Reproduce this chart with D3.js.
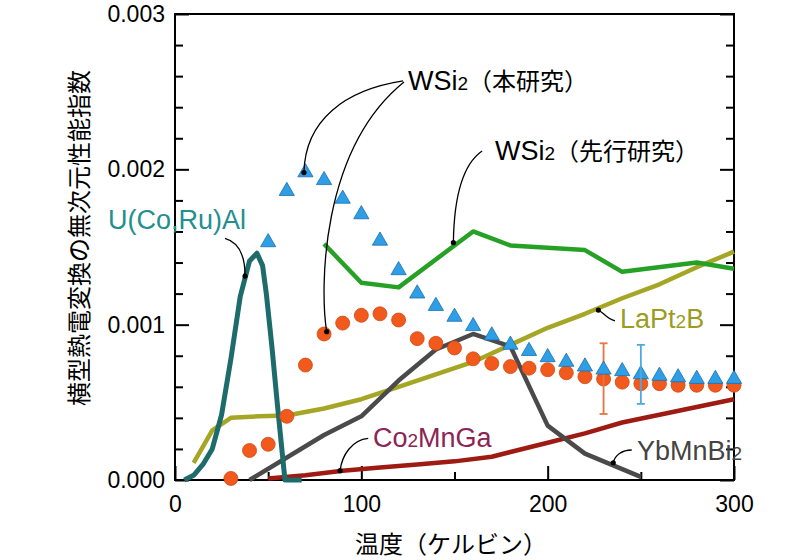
<!DOCTYPE html>
<html><head><meta charset="utf-8">
<script src="https://cdn.jsdelivr.net/npm/d3@7"></script>
<style>body{margin:0;background:#fff}svg{display:block}text,tspan{font-feature-settings:"chws" 0;}</style>
</head><body><svg id="c" width="800" height="560"></svg>
<script>
// ---------- data ----------
const xTickVals = [0, 100, 200, 300];
const xMinorVals = [50, 150, 250];
const yTickVals = [0, 0.001, 0.002, 0.003];
const yMinorVals = [0.0002,0.0004,0.0006,0.0008,0.0012,0.0014,0.0016,0.0018,0.0022,0.0024,0.0026,0.0028];

// WSi2 (this study) - triangles
const triT = [50,60,70,80,90,100,110,120,130,140,150,160,170,180,190,200,210,220,230,240,250,260,270,280,290,300];
const triV = [0.00153,0.00186,0.00198,0.00193,0.00181,0.00171,0.00154,0.00135,0.00120,0.00112,0.00105,0.00099,0.00093,0.00087,0.00083,0.00079,0.00076,0.00073,0.00071,0.00070,0.00068,0.00067,0.00066,0.00065,0.00065,0.00065];
// WSi2 (this study) - circles
const circT = [30,40,50,60,70,80,90,100,110,120,130,140,150,160,170,180,190,200,210,220,230,240,250,260,270,280,290,300];
const circV = [0.00001,0.00019,0.00023,0.00041,0.00074,0.00094,0.00101,0.00106,0.00107,0.00103,0.00091,0.00088,0.00085,0.00078,0.00075,0.00073,0.00072,0.00071,0.00069,0.000665,0.00065,0.00063,0.00062,0.00062,0.00061,0.00061,0.00061,0.00061];
// error bars
const errCirc = {t: 230, lo: 0.000425, hi: 0.00088};
const errTri  = {t: 250, lo: 0.00049,  hi: 0.00087};

// WSi2 (previous study)
const prevT = [80,100,120,160,180,220,240,280,300];
const prevV = [0.00152,0.00127,0.00124,0.00160,0.00151,0.00148,0.00134,0.00140,0.00136];
// U(Co,Ru)Al
const ucoT = [5,10,15,20,25,30,35,40,44,47,49,52,55,59,68];
const ucoV = [0,0.00003,0.0001,0.0002,0.00042,0.00078,0.00118,0.00141,0.00146,0.00138,0.0012,0.00086,0.00048,0,0];
// LaPt2B
const laT = [10,20,30,45,60,80,100,120,140,160,180,200,220,240,260,280,300];
const laV = [0.00011,0.00032,0.0004,0.00041,0.000415,0.00046,0.00052,0.0006,0.00068,0.00076,0.00087,0.00098,0.00107,0.00117,0.00126,0.00137,0.00147];
// YbMnBi2
const ybT = [40,80,100,120,140,160,180,200,220,250];
const ybV = [0,0.00029,0.00041,0.00064,0.00084,0.00094,0.00086,0.00035,0.00017,0.00002];
// Co2MnGa
const coT = [50,70,90,110,130,150,170,180,200,220,240,260,280,300];
const coV = [0.00001,0.00003,0.00006,0.00008,0.0001,0.00012,0.00015,0.00018,0.00024,0.0003,0.00037,0.00042,0.00047,0.00052];

// ---------- layout ----------
const svg = d3.select("#c");
const x = d3.scaleLinear().domain([0, 300]).range([175, 734]);
const y = d3.scaleLinear().domain([0, 0.003]).range([480, 14]);
const LAT = "'Liberation Sans', Arial, 'Noto Sans CJK JP', sans-serif";
const CJK = "'Noto Sans CJK JP', sans-serif";

svg.append("rect").attr("width",800).attr("height",560).attr("fill","#fff");

// frame
svg.append("rect").attr("x",x(0)).attr("y",y(0.003)).attr("width",x(300)-x(0)).attr("height",y(0)-y(0.003))
  .attr("fill","none").attr("stroke","#000").attr("stroke-width",2);

function styleAxis(g){ g.select(".domain").remove(); g.selectAll(".tick line").attr("stroke","#000").attr("stroke-width",2); }

const gx = svg.append("g").attr("transform",`translate(0,${y(0)})`)
  .call(d3.axisBottom(x).tickValues(xTickVals).tickSize(-14).tickPadding(16).tickFormat(d3.format("d")));
styleAxis(gx);
gx.selectAll("text").attr("font-family",LAT).attr("font-size",23).attr("fill","#000");
const gxm = svg.append("g").attr("transform",`translate(0,${y(0)})`)
  .call(d3.axisBottom(x).tickValues(xMinorVals).tickSize(-8).tickFormat(""));
styleAxis(gxm);

const gy = svg.append("g").attr("transform",`translate(${x(0)},0)`)
  .call(d3.axisLeft(y).tickValues(yTickVals).tickSize(-14).tickPadding(10).tickFormat(d3.format(".3f")));
styleAxis(gy);
gy.selectAll("text").attr("font-family",LAT).attr("font-size",23).attr("fill","#000");
const gym = svg.append("g").attr("transform",`translate(${x(0)},0)`)
  .call(d3.axisLeft(y).tickValues(yMinorVals).tickSize(-8).tickFormat(""));
styleAxis(gym);
const gr = svg.append("g").attr("transform",`translate(${x(300)},0)`)
  .call(d3.axisRight(y).tickValues(yTickVals).tickSize(-14).tickFormat(""));
styleAxis(gr);
const grm = svg.append("g").attr("transform",`translate(${x(300)},0)`)
  .call(d3.axisRight(y).tickValues(yMinorVals).tickSize(-8).tickFormat(""));
styleAxis(grm);

// axis titles
svg.append("text").attr("transform","translate(80,238) rotate(-90)").attr("text-anchor","middle")
  .attr("dy","0.35em").attr("font-family",CJK).attr("font-size",24).attr("fill","#000")
  .text("横型熱電変換の無次元性能指数");
svg.append("text").attr("x",451).attr("y",553).attr("text-anchor","middle")
  .attr("font-family",CJK).attr("font-size",24).attr("fill","#000").text("温度（ケルビン）");

// ---------- lines ----------
const line = d3.line().x(d => x(d[0])).y(d => y(d[1]));
const zip = (a, b) => a.map((t, i) => [t, b[i]]);
const plot = svg.append("g");
function drawLine(T, V, color, w){
  plot.append("path").datum(zip(T, V)).attr("d", line).attr("fill","none")
    .attr("stroke", color).attr("stroke-width", w).attr("stroke-linejoin","round");
}
drawLine(coT, coV, "#9e1b14", 4.5);
drawLine(laT, laV, "#a6a626", 4.5);
drawLine(ybT, ybV, "#4a4a4a", 4.5);
drawLine(prevT, prevV, "#26a126", 4.5);
drawLine(ucoT, ucoV, "#1d6b6b", 5);

// circles
plot.selectAll("circle.o").data(zip(circT, circV)).join("circle")
  .attr("cx", d => x(d[0])).attr("cy", d => y(d[1])).attr("r", 7)
  .attr("fill", "#f2591c").attr("stroke", "#d04a15").attr("stroke-width", 0.8);

// error bars
function errBar(e, color){
  const g = plot.append("g").attr("stroke", color).attr("stroke-width", 1.8);
  g.append("line").attr("x1",x(e.t)).attr("x2",x(e.t)).attr("y1",y(e.lo)).attr("y2",y(e.hi));
  g.append("line").attr("x1",x(e.t)-4).attr("x2",x(e.t)+4).attr("y1",y(e.lo)).attr("y2",y(e.lo));
  g.append("line").attr("x1",x(e.t)-4).attr("x2",x(e.t)+4).attr("y1",y(e.hi)).attr("y2",y(e.hi));
}
errBar(errCirc, "#e8743e");

// triangles
const tri = d3.symbol().type(d3.symbolTriangle).size(100);
plot.selectAll("path.t").data(zip(triT, triV)).join("path")
  .attr("transform", d => `translate(${x(d[0])},${y(d[1])})`).attr("d", tri)
  .attr("fill", "#2e9fe6").attr("stroke", "#1b6fae").attr("stroke-width", 0.8);
errBar(errTri, "#4aa9e2");

// ---------- annotations ----------
const leaders = [
  [[122.4,0.002569],[91.2,0.002511],[69.8,0.002318],[69.2,0.001979]],
  [[122.9,0.002562],[77.8,0.002124],[77.8,0.001223],[81.4,0.000955]],
  [[164.8,0.002118],[154.0,0.002028],[149.7,0.001803],[149.4,0.001528]],
  [[26.8,0.001555],[33.8,0.001532],[37.6,0.001449],[37.6,0.001313]],
  [[236.1,0.001024],[231.8,0.001036],[229.7,0.001081],[227.2,0.001094]],
  [[103.7,0.000268],[95,0.000258],[89.6,0.000161],[88.6,0.00006]],
  [[245.1,0.000193],[239.9,0.000193],[236.1,0.000161],[235.2,0.000111]]
];
const ann = svg.append("g");
leaders.forEach(c => {
  const p = d3.path();
  p.moveTo(x(c[0][0]), y(c[0][1]));
  p.bezierCurveTo(x(c[1][0]), y(c[1][1]), x(c[2][0]), y(c[2][1]), x(c[3][0]), y(c[3][1]));
  ann.append("path").attr("d", p.toString()).attr("fill","none").attr("stroke","#000").attr("stroke-width",1.3);
  ann.append("circle").attr("cx", x(c[3][0])).attr("cy", y(c[3][1])).attr("r", 2.6).attr("fill","#000");
});

// labels: parts [text, kind] kind: L latin, S subscript, C cjk
function label(px, py, parts, color){
  const t = svg.append("text").attr("x", px).attr("y", py).attr("fill", color);
  parts.forEach(([s, k]) => {
    t.append("tspan").text(s)
      .attr("font-family", k === "C" ? CJK : LAT)
      .attr("font-size", k === "L" ? 27 : k === "S" ? 19 : 24);
  });
}
label(408, 90, [["WSi","L"],["2","S"],["（本研究）","C"]], "#000");
label(495, 160, [["WSi","L"],["2","S"],["（先行研究）","C"]], "#000");
label(108, 229, [["U(Co,Ru)Al","L"]], "#238f8f");
label(620, 328, [["LaPt","L"],["2","S"],["B","L"]], "#9c9c22");
label(373, 447, [["Co","L"],["2","S"],["MnGa","L"]], "#8c2455");
label(637, 460, [["YbMnBi","L"],["2","S"]], "#444");
</script></body></html>
